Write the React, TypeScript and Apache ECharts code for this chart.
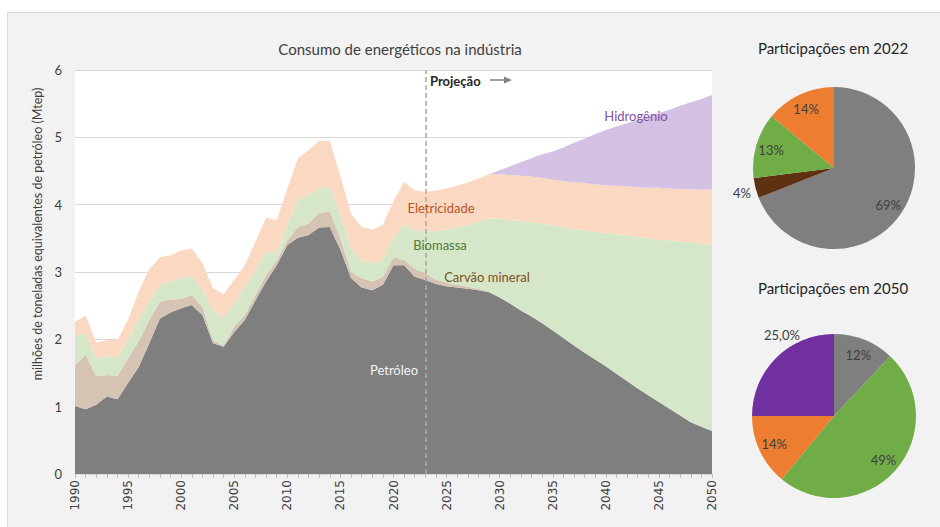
import React, { useEffect, useRef } from "react";
import * as echarts from "echarts";

const years: string[] = Array.from({ length: 61 }, (_, i) => String(1990 + i));

const petroleo = [
  1.01, 0.96, 1.03, 1.15, 1.11, 1.35, 1.59, 1.94, 2.31, 2.40,
  2.46, 2.51, 2.36, 1.94, 1.89, 2.11, 2.29, 2.58, 2.86, 3.10,
  3.40, 3.51, 3.55, 3.66, 3.67, 3.33, 2.91, 2.77, 2.73, 2.81,
  3.10, 3.10, 2.93, 2.88, 2.82, 2.79, 2.77, 2.75, 2.73, 2.70,
  2.62, 2.53, 2.43, 2.34, 2.24, 2.13, 2.02, 1.91, 1.80, 1.70,
  1.60, 1.49, 1.38, 1.27, 1.17, 1.07, 0.97, 0.87, 0.77, 0.70,
  0.64,
];

const carvao = [
  0.61, 0.81, 0.42, 0.32, 0.35, 0.37, 0.38, 0.35, 0.25, 0.19,
  0.14, 0.15, 0.12, 0.05, 0.02, 0.08, 0.07, 0.08, 0.09, 0.07,
  0.07, 0.16, 0.17, 0.22, 0.23, 0.17, 0.09, 0.14, 0.13, 0.12,
  0.12, 0.08, 0.12, 0.10, 0.07, 0.05, 0.04, 0.03, 0.02, 0.01,
  0, 0, 0, 0, 0, 0, 0, 0, 0, 0,
  0, 0, 0, 0, 0, 0, 0, 0, 0, 0,
  0,
];

const biomassa = [
  0.44, 0.32, 0.27, 0.27, 0.28, 0.27, 0.34, 0.27, 0.25, 0.27,
  0.32, 0.28, 0.25, 0.45, 0.40, 0.35, 0.42, 0.37, 0.35, 0.12,
  0.23, 0.40, 0.42, 0.38, 0.36, 0.35, 0.35, 0.27, 0.27, 0.24,
  0.30, 0.52, 0.57, 0.62, 0.72, 0.79, 0.85, 0.92, 1.00, 1.09,
  1.17, 1.24, 1.33, 1.40, 1.48, 1.56, 1.64, 1.73, 1.82, 1.90,
  1.98, 2.07, 2.16, 2.25, 2.33, 2.41, 2.50, 2.58, 2.67, 2.72,
  2.77,
];

const eletricidade = [
  0.20, 0.26, 0.23, 0.25, 0.25, 0.30, 0.40, 0.48, 0.41, 0.39,
  0.40, 0.41, 0.40, 0.32, 0.36, 0.34, 0.32, 0.42, 0.51, 0.48,
  0.54, 0.62, 0.67, 0.69, 0.69, 0.57, 0.52, 0.49, 0.50, 0.53,
  0.53, 0.64, 0.59, 0.59, 0.60, 0.61, 0.62, 0.63, 0.64, 0.65,
  0.66, 0.67, 0.67, 0.68, 0.68, 0.68, 0.69, 0.69, 0.70, 0.70,
  0.71, 0.72, 0.73, 0.74, 0.75, 0.77, 0.77, 0.78, 0.79, 0.80,
  0.81,
];

const hidrogenio = [
  0, 0, 0, 0, 0, 0, 0, 0, 0, 0,
  0, 0, 0, 0, 0, 0, 0, 0, 0, 0,
  0, 0, 0, 0, 0, 0, 0, 0, 0, 0,
  0, 0, 0, 0, 0, 0, 0, 0, 0, 0,
  0.06, 0.13, 0.20, 0.27, 0.35, 0.42, 0.50, 0.59, 0.66, 0.75,
  0.82, 0.88, 0.94, 1.00, 1.06, 1.11, 1.17, 1.24, 1.29, 1.35,
  1.41,
];

const projectionStart = "2023";

const pie2022Names = ["Petróleo", "Carvão mineral", "Biomassa", "Eletricidade"];
const pie2022Values = [69, 4, 13, 14];
const pie2022Texts = ["69%", "4%", "13%", "14%"];

const pie2050Names = ["Petróleo", "Biomassa", "Eletricidade", "Hidrogênio"];
const pie2050Values = [12, 49, 14, 25];
const pie2050Texts = ["12%", "49%", "14%", "25,0%"];

const FONT = "Lato, 'Noto Sans', sans-serif";

const areaColors: Record<string, string> = {
  "Petróleo": "#7f7f7f",
  "Carvão mineral": "#d5c3b3",
  "Biomassa": "#d5e7c8",
  "Eletricidade": "#fad8c1",
  "Hidrogênio": "#d5c1e3",
};

const pieColors: Record<string, string> = {
  "Petróleo": "#7f7f7f",
  "Carvão mineral": "#5e3211",
  "Biomassa": "#70ad47",
  "Eletricidade": "#ed7d31",
  "Hidrogênio": "#7030a0",
};

function areaSeries(name: string, data: number[], extra: any = {}) {
  return {
    name,
    type: "line",
    stack: "total",
    symbol: "none",
    showSymbol: false,
    silent: true,
    data,
    lineStyle: { width: 0 },
    itemStyle: { color: areaColors[name] },
    areaStyle: { color: areaColors[name], opacity: 1 },
    ...extra,
  };
}

function pieSeries(
  center: number[],
  r: number,
  names: string[],
  values: number[],
  texts: string[],
  outsideIdx: number,
  outsidePos: number[]
) {
  const base = {
    type: "pie",
    center,
    radius: r,
    startAngle: 90,
    clockwise: true,
    silent: true,
    avoidLabelOverlap: false,
    label: { show: false },
    labelLine: { show: false },
    itemStyle: { borderWidth: 0 },
    data: names.map((n, i) => ({
      name: n,
      value: values[i],
      itemStyle: { color: pieColors[n] },
    })),
  };
  const labels = {
    type: "pie",
    center,
    radius: [44, r],
    startAngle: 90,
    clockwise: true,
    silent: true,
    avoidLabelOverlap: false,
    itemStyle: { color: "rgba(0,0,0,0)", borderWidth: 0 },
    labelLine: { show: false },
    label: {
      show: true,
      position: "inside",
      color: "#404040",
      fontSize: 13,
      fontFamily: FONT,
      formatter: (p: any) => texts[p.dataIndex],
    },
    labelLayout: (p: any) =>
      p.dataIndex === outsideIdx
        ? { x: outsidePos[0], y: outsidePos[1], align: "center", verticalAlign: "middle" }
        : {},
    data: names.map((n, i) => ({ name: n + " ", value: values[i] })),
  };
  return [base, labels];
}

function txt(text: string, x: number, y: number, size: number, fill: string, extra: any = {}) {
  return {
    type: "text",
    x,
    y,
    z: 100,
    silent: true,
    style: {
      text,
      fill,
      fontSize: size,
      fontFamily: FONT,
      align: "center",
      verticalAlign: "middle",
      ...extra,
    },
  };
}

export default function App() {
  const ref = useRef<HTMLDivElement>(null);

  useEffect(() => {
    if (!ref.current) return;
    const chart = echarts.init(ref.current, undefined, { renderer: "svg" });
    const option: any = {
      animation: false,
      backgroundColor: "transparent",
      grid: {
        left: 75,
        right: 228,
        top: 70,
        bottom: 53,
        show: true,
        backgroundColor: "#ffffff",
        borderWidth: 0,
      },
      xAxis: {
        type: "category",
        data: years,
        boundaryGap: false,
        axisLine: { show: true, lineStyle: { color: "#d9d9d9" } },
        axisTick: { show: true, interval: 0, length: 4, lineStyle: { color: "#bfbfbf" } },
        splitLine: { show: false },
        axisLabel: {
          interval: 4,
          rotate: 90,
          margin: 6,
          color: "#404040",
          fontSize: 12,
          fontFamily: "'DejaVu Sans', sans-serif",
        },
      },
      yAxis: {
        type: "value",
        min: 0,
        max: 6,
        interval: 1,
        name: "milhões de toneladas equivalentes de petróleo (Mtep)",
        nameLocation: "middle",
        nameRotate: 90,
        nameGap: 27,
        nameTextStyle: {
          color: "#404040",
          fontSize: 12.5,
          fontFamily: FONT,
          padding: [0, 0, 0, 76],
        },
        axisLine: { show: false },
        axisTick: { show: false },
        splitLine: { lineStyle: { color: "#d9d9d9", width: 1 } },
        axisLabel: { color: "#404040", fontSize: 13, fontFamily: FONT, margin: 13 },
      },
      series: [
        areaSeries("Petróleo", petroleo, {
          markLine: {
            silent: true,
            symbol: "none",
            label: { show: false },
            lineStyle: { color: "#a6a6a6", type: [5, 3], width: 1.5 },
            data: [{ xAxis: projectionStart }],
          },
        }),
        areaSeries("Carvão mineral", carvao),
        areaSeries("Biomassa", biomassa),
        areaSeries("Eletricidade", eletricidade),
        areaSeries("Hidrogênio", hidrogenio),
        ...pieSeries([834, 168], 81, pie2022Names, pie2022Values, pie2022Texts, 1, [742, 193]),
        ...pieSeries([834, 416], 82, pie2050Names, pie2050Values, pie2050Texts, 3, [782, 335]),
      ],
      graphic: [
        txt("Consumo de energéticos na indústria", 400, 49, 15, "#404040"),
        txt("Participações em 2022", 833, 48, 15, "#262626"),
        txt("Participações em 2050", 833, 288, 15, "#262626"),
        txt("Projeção", 430, 81, 13, "#262626", { align: "left", fontWeight: "bold" }),
        {
          type: "line",
          z: 100,
          silent: true,
          shape: { x1: 490, y1: 80, x2: 506, y2: 80 },
          style: { stroke: "#808080", lineWidth: 1.5 },
        },
        {
          type: "polygon",
          z: 100,
          silent: true,
          shape: { points: [[504, 76.5], [512, 80], [504, 83.5]] },
          style: { fill: "#808080" },
        },
        txt("Hidrogênio", 636, 116, 13, "#7f4fa8"),
        txt("Eletricidade", 441, 208, 13, "#b5562a"),
        txt("Biomassa", 440, 245, 13, "#4f7a3a"),
        txt("Carvão mineral", 487, 277, 13, "#7f4f1f"),
        txt("Petróleo", 394, 370, 13, "#f2f2f2"),
      ],
    };
    chart.setOption(option);
    return () => chart.dispose();
  }, []);

  return (
    <div style={{ position: "absolute", left: 0, top: 0, width: 940, height: 527, background: "#ffffff", overflow: "hidden" }}>
      <div
        style={{
          position: "absolute",
          left: 7,
          top: 12,
          width: 945,
          height: 530,
          background: "#f2f2f2",
          border: "1px solid #d9d9d9",
        }}
      />
      <div ref={ref} style={{ position: "absolute", left: 0, top: 0, width: 940, height: 527 }} />
    </div>
  );
}
